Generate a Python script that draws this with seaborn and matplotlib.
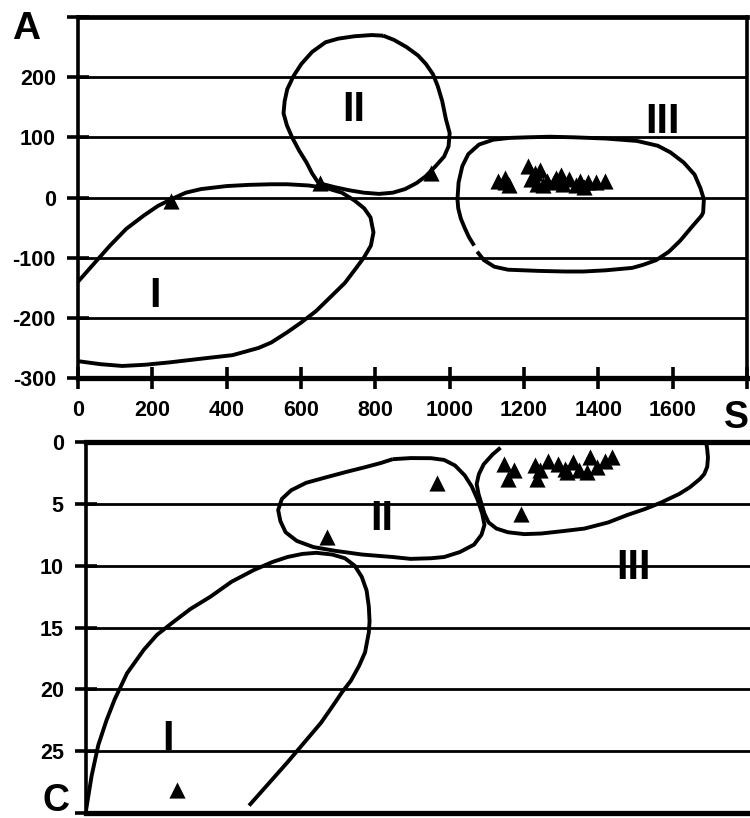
import matplotlib
matplotlib.use("Agg")
import matplotlib.pyplot as plt
from matplotlib import font_manager
import seaborn as sns
import pandas as pd

# ---------------- data ----------------
# Panel A (S vs A): cluster outlines
regI_A_x = [0, 40, 86, 130, 177, 215, 254, 290, 331, 400, 460, 520, 563, 620, 666, 710, 744, 770, 787, 795, 788, 769, 745, 718, 680, 640, 600, 563, 520, 486, 416, 330, 247, 180, 119, 60, 0]
regI_A_y = [-140, -112, -80, -52, -30, -14, -2, 8, 14, 19, 21, 22, 22, 20, 16, 8, -5, -18, -33, -58, -80, -100, -120, -142, -165, -189, -208, -224, -241, -250, -262, -268, -274, -278, -280, -277, -272]
regII_A_x = [821, 850, 884, 915, 936, 955, 968, 980, 990, 1000, 997, 985, 962, 935, 911, 880, 847, 810, 769, 730, 692, 660, 645, 630, 615, 595, 576, 562, 553, 556, 563, 580, 601, 630, 666, 700, 744, 790, 821]
regII_A_y = [269, 262, 250, 236, 222, 205, 185, 160, 130, 107, 85, 68, 52, 35, 24, 14, 8, 6, 8, 12, 17, 22, 26, 40, 58, 78, 100, 120, 140, 160, 180, 202, 222, 242, 258, 264, 268, 270, 269]
regIII_A_x = [1066, 1052, 1040, 1030, 1023, 1021, 1024, 1034, 1050, 1079, 1117, 1160, 1207, 1270, 1336, 1420, 1504, 1560, 1594, 1630, 1659, 1675, 1684, 1682, 1678, 1650, 1620, 1590, 1556, 1520, 1491, 1420, 1360, 1311, 1240, 1157, 1120, 1092, 1074]
regIII_A_y = [-80, -66, -50, -35, -18, -3, 25, 52, 72, 88, 96, 99, 100, 101, 100, 98, 94, 86, 75, 58, 38, 15, -3, -25, -30, -50, -72, -90, -104, -112, -117, -121, -123, -123, -122, -120, -115, -104, -90]

pts_A_x = [250, 651, 950, 1130, 1148, 1160, 1150, 1210, 1218, 1230, 1242, 1250, 1262, 1280, 1300, 1305, 1320, 1340, 1350, 1362, 1372, 1395, 1418, 1235, 1285]
pts_A_y = [-5, 24, 41, 27, 33, 20, 25, 52, 30, 40, 45, 20, 28, 25, 38, 22, 30, 20, 28, 18, 25, 25, 27, 22, 32]

# Panel C (S vs C): cluster outlines
regI_C_x = [0, 15, 33, 55, 77, 110, 155, 190, 232, 280, 334, 390, 450, 500, 540, 580, 617, 660, 694, 720, 739, 752, 758, 760, 758, 748, 732, 710, 687, 660, 630, 585, 540, 490, 437]
regI_C_y = [29.8, 27, 24.5, 22.5, 20.8, 18.7, 16.8, 15.6, 14.6, 13.5, 12.5, 11.3, 10.35, 9.7, 9.3, 9.05, 8.96, 9.1, 9.4, 10.0, 10.9, 12.0, 13.3, 14.5, 15.4, 17.0, 18.1, 19.3, 20.2, 21.4, 22.7, 24.3, 25.9, 27.6, 29.4]
regII_C_x = [822, 870, 925, 960, 989, 1015, 1034, 1050, 1062, 1068, 1060, 1040, 1002, 960, 925, 870, 822, 740, 668, 610, 565, 535, 521, 515, 525, 550, 590, 643, 700, 745, 790, 822]
regII_C_y = [1.39, 1.3, 1.31, 1.45, 1.9, 2.7, 3.6, 4.7, 5.8, 6.7, 7.5, 8.3, 8.9, 9.3, 9.4, 9.45, 9.3, 9.1, 8.8, 8.5, 8.0, 7.3, 6.4, 5.5, 4.6, 3.9, 3.3, 2.86, 2.4, 2.06, 1.7, 1.39]
regIII_C_x = [1111, 1090, 1066, 1053, 1047, 1052, 1060, 1068, 1079, 1100, 1131, 1175, 1220, 1280, 1336, 1400, 1451, 1500, 1541, 1590, 1618, 1645, 1657, 1665, 1667, 1665, 1663]
regIII_C_y = [0.46, 1.0, 1.8, 2.6, 3.4, 4.2, 5.0, 5.8, 6.5, 7.0, 7.3, 7.45, 7.4, 7.2, 7.0, 6.5, 5.9, 5.4, 4.9, 4.2, 3.67, 3.0, 2.6, 2.0, 1.26, 0.6, 0.19]

pts_C_x = [245, 646, 940, 1165, 1119, 1146, 1132, 1204, 1208, 1239, 1217, 1266, 1284, 1306, 1320, 1351, 1342, 1369, 1391, 1409, 1289]
pts_C_y = [28.1, 7.7, 3.3, 5.8, 1.77, 2.3, 3.0, 1.9, 3.0, 1.5, 2.3, 1.77, 2.2, 1.6, 2.3, 1.2, 2.4, 2.0, 1.5, 1.2, 2.4]

region_names = ["I", "II", "III"]
labels_A_pos = [(206, -164), (741, 146), (1573, 125)]
labels_C_pos = [(219, 24), (793, 6.2), (1468, 10.2)]

xticks_A = [0, 200, 400, 600, 800, 1000, 1200, 1400, 1600, 1800]
xticklabels_A = ["0", "200", "400", "600", "800", "1000", "1200", "1400", "1600", ""]
yticks_A = [-300, -200, -100, 0, 100, 200, 300]
yticklabels_A = ["-300", "-200", "-100", "0", "100", "200", ""]
yticks_C = [0, 5, 10, 15, 20, 25, 30]
yticklabels_C = ["0", "5", "10", "15", "20", "25", ""]

# ---------------- style ----------------
sns.set_style("white")
avail = {f.name for f in font_manager.fontManager.ttflist}
fam = "Liberation Sans" if "Liberation Sans" in avail else "DejaVu Sans"
plt.rcParams["font.family"] = [fam, "DejaVu Sans"]
plt.rcParams["font.weight"] = "bold"
plt.rcParams["text.color"] = "black"
plt.rcParams["xtick.color"] = "black"
plt.rcParams["ytick.color"] = "black"

fig = plt.figure(figsize=(7.5, 8.18), dpi=100)
W, H = 750.0, 818.0
ax1 = fig.add_axes([78 / W, (H - 378) / H, (747 - 78) / W, (378 - 17) / H])
ax2 = fig.add_axes([86 / W, (H - 813) / H, (752 - 86) / W, (813 - 442) / H])

LW_C = 2.8
GRID_LW = 2.0
TICK_FS = 15.5
REG_FS = 30
MS = 135

def draw_outline(ax, xs, ys):
    df = pd.DataFrame({"x": xs, "y": ys})
    sns.lineplot(data=df, x="x", y="y", sort=False, estimator=None, color="black",
                 lw=LW_C, ax=ax, zorder=3, solid_joinstyle="round", solid_capstyle="butt")

# Panel A
draw_outline(ax1, regI_A_x, regI_A_y)
draw_outline(ax1, regII_A_x, regII_A_y)
draw_outline(ax1, regIII_A_x, regIII_A_y)
sns.scatterplot(x=pts_A_x, y=pts_A_y, marker="^", s=MS, color="black", linewidth=0, ax=ax1, zorder=4)
for name, (x, y) in zip(region_names, labels_A_pos):
    ax1.text(x, y, name, fontsize=REG_FS, fontweight="bold", color="black",
             ha="center", va="center", zorder=5)

ax1.set_xlim(0, 1800)
ax1.set_ylim(-300, 300)
ax1.set_xticks(xticks_A)
ax1.set_xticklabels(xticklabels_A)
ax1.set_yticks(yticks_A)
ax1.set_yticklabels(yticklabels_A)
ax1.set_xlabel("")
ax1.set_ylabel("")
ax1.grid(False)
ax1.yaxis.grid(True, color="black", lw=GRID_LW, zorder=0)
ax1.set_axisbelow(True)
ax1.tick_params(axis="both", which="major", bottom=True, left=True, top=False, right=False,
                direction="inout", length=16, width=2.6, labelsize=TICK_FS,
                color="black", labelcolor="black")
ax1.tick_params(axis="x", pad=8)
ax1.tick_params(axis="y", pad=8)
for s, lw in zip(["left", "right", "top", "bottom"], [2.6, 2.6, 3.4, 3.8]):
    ax1.spines[s].set_visible(True)
    ax1.spines[s].set_color("black")
    ax1.spines[s].set_linewidth(lw)

# Panel C
draw_outline(ax2, regI_C_x, regI_C_y)
draw_outline(ax2, regII_C_x, regII_C_y)
draw_outline(ax2, regIII_C_x, regIII_C_y)
sns.scatterplot(x=pts_C_x, y=pts_C_y, marker="^", s=MS, color="black", linewidth=0, ax=ax2, zorder=4)
for name, (x, y) in zip(region_names, labels_C_pos):
    ax2.text(x, y, name, fontsize=REG_FS, fontweight="bold", color="black",
             ha="center", va="center", zorder=5)

ax2.set_xlim(0, 1785)
ax2.set_ylim(30, 0)
ax2.set_xticks([])
ax2.set_yticks(yticks_C)
ax2.set_yticklabels(yticklabels_C)
ax2.set_xlabel("")
ax2.set_ylabel("")
ax2.grid(False)
ax2.yaxis.grid(True, color="black", lw=GRID_LW, zorder=0)
ax2.set_axisbelow(True)
ax2.tick_params(axis="y", which="major", left=True, right=False,
                direction="inout", length=16, width=2.6, labelsize=TICK_FS,
                color="black", labelcolor="black", pad=8)
for s, lw in zip(["left", "top", "bottom"], [2.6, 3.8, 3.8]):
    ax2.spines[s].set_visible(True)
    ax2.spines[s].set_color("black")
    ax2.spines[s].set_linewidth(lw)
ax2.spines["right"].set_visible(False)

for t in ax1.get_xticklabels() + ax1.get_yticklabels() + ax2.get_yticklabels():
    t.set_fontweight("bold")
    t.set_color("black")

# Axis letters
fig.text(26 / W, 1 - 29 / H, "A", fontsize=28, fontweight="bold", color="black", ha="center", va="center")
fig.text(736 / W, 1 - 418 / H, "S", fontsize=27, fontweight="bold", color="black", ha="center", va="center")
fig.text(56 / W, 1 - 801 / H, "C", fontsize=27, fontweight="bold", color="black", ha="center", va="center")

fig.savefig("out.png", dpi=100)
